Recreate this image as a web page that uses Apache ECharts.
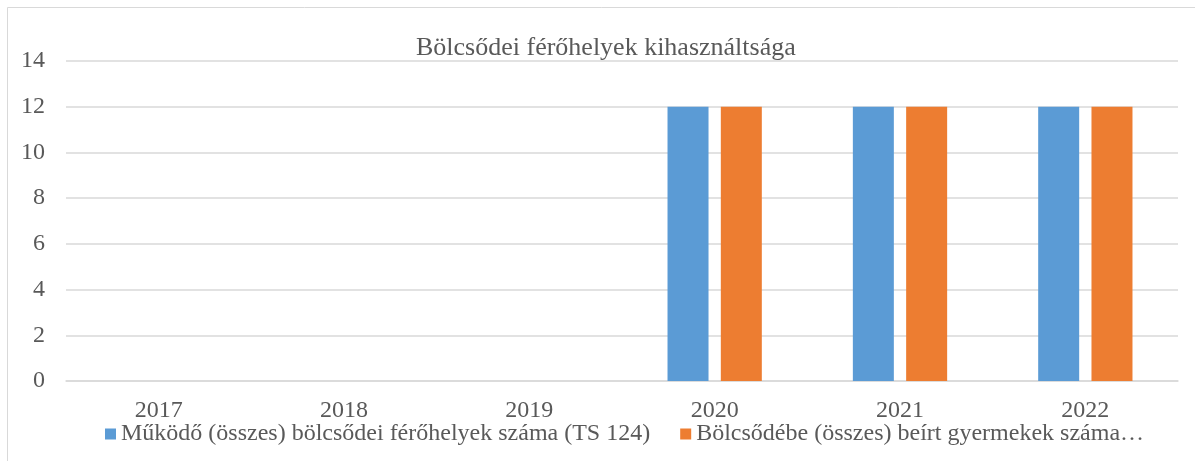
<!DOCTYPE html>
<html>
<head>
<meta charset="utf-8">
<script src="https://cdn.jsdelivr.net/npm/echarts@6/dist/echarts.min.js"></script>
<style>
  html, body { margin: 0; padding: 0; background: #fff; }
  #chart { width: 1195px; height: 461px; }
</style>
</head>
<body>
<div id="chart"></div>
<script>
const years = ['2017', '2018', '2019', '2020', '2021', '2022']
const placesValues = [null, null, null, 12, 12, 12]
const enrolledValues = [null, null, null, 12, 12, 12]
const seriesNames = [
  'Működő (összes) bölcsődei férőhelyek száma (TS 124)',
  'Bölcsődébe (összes) beírt gyermekek száma…',
]

const FONT = '"Liberation Serif", "DejaVu Serif", serif'
const chart = echarts.init(document.getElementById('chart'), null, { renderer: 'canvas' })

chart.setOption({
  backgroundColor: '#fff',
  animation: false,
  title: {
    text: 'Bölcsődei férőhelyek kihasználtsága',
    left: 411,
    top: 30,
    textStyle: { fontFamily: FONT, fontSize: 26, fontWeight: 'normal', color: '#595959' },
  },
  graphic: [
    {
      type: 'rect',
      shape: { x: 7.5, y: 7.5, width: 1200, height: 470 },
      style: { fill: 'none', stroke: '#d9d9d9', lineWidth: 1 },
    },
  ],
  legend: {
    bottom: 10,
    left: 100,
    itemWidth: 11,
    itemHeight: 11,
    itemGap: 30,
    icon: 'rect',
    textStyle: { fontFamily: FONT, fontSize: 24, color: '#595959' },
    data: seriesNames,
  },
  grid: { left: 66, right: 17, top: 61, bottom: 80 },
  xAxis: {
    type: 'category',
    data: years,
    axisLine: { lineStyle: { color: '#d9d9d9', width: 1.5 } },
    axisTick: { show: false },
    axisLabel: { fontFamily: FONT, fontSize: 24, color: '#595959', margin: 18 },
  },
  yAxis: {
    type: 'value',
    min: 0,
    max: 14,
    interval: 2,
    axisLine: { show: false },
    axisTick: { show: false },
    splitLine: { lineStyle: { color: '#d9d9d9', width: 1.5 } },
    axisLabel: { fontFamily: FONT, fontSize: 24, color: '#595959', margin: 21 },
  },
  series: [
    {
      name: seriesNames[0],
      type: 'bar',
      data: placesValues,
      barWidth: 41,
      barGap: '30%',
      itemStyle: { color: '#5b9bd5' },
    },
    {
      name: seriesNames[1],
      type: 'bar',
      data: enrolledValues,
      barWidth: 41,
      itemStyle: { color: '#ed7d31' },
    },
  ],
})
</script>
</body>
</html>
